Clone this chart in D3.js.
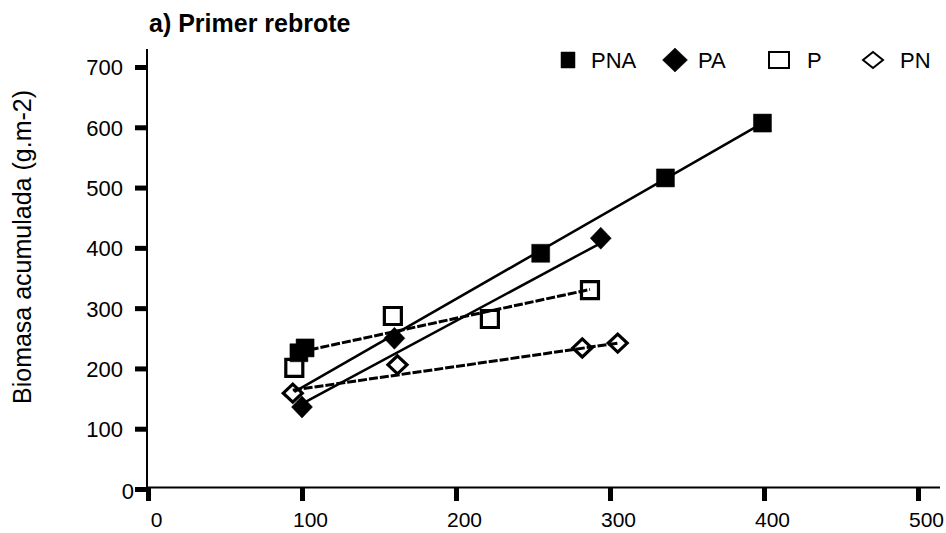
<!DOCTYPE html>
<html>
<head>
<meta charset="utf-8">
<script src="https://cdn.jsdelivr.net/npm/d3@7"></script>
<style>
  html, body { margin: 0; padding: 0; background: #fff; }
  svg { display: block; }
  text { font-family: "Liberation Sans", Arial, Helvetica, sans-serif; fill: #000; }
</style>
</head>
<body>
<svg id="chart" width="946" height="533"></svg>
<script>
// ---- data ----
const title = "a) Primer rebrote";
const yTitle = "Biomasa acumulada (g.m-2)";
const seriesNames = ["PNA", "PA", "P", "PN"];

const pnaX = [98, 102, 255, 336, 399];
const pnaY = [226, 234, 391, 516, 607];
const paX = [100, 160, 294];
const paY = [136, 250, 416];
const pX = [95, 159, 222, 287];
const pY = [201, 287, 282, 330];
const pnX = [94, 162, 282, 305];
const pnY = [159, 206, 234, 242];

// fitted lines (start / end)
const pnaFitX = [95, 399], pnaFitY = [161, 607];
const paFitX = [102, 294], paFitY = [144, 408];
const pFitX = [98, 287], pFitY = [227, 331];
const pnFitX = [94, 305], pnFitY = [164, 242];

const xTicks = [0, 100, 200, 300, 400, 500];
const yTicks = [0, 100, 200, 300, 400, 500, 600, 700];

// ---- drawing ----
const svg = d3.select("#chart");
const x = d3.scaleLinear().domain([0, 500]).range([148, 918]);
const y = d3.scaleLinear().domain([0, 700]).range([489, 67]);

const series = [
  { name: seriesNames[0], xs: pnaX, ys: pnaY, fx: pnaFitX, fy: pnaFitY, shape: "square", filled: true, dashed: false },
  { name: seriesNames[1], xs: paX, ys: paY, fx: paFitX, fy: paFitY, shape: "diamond", filled: true, dashed: false },
  { name: seriesNames[2], xs: pX, ys: pY, fx: pFitX, fy: pFitY, shape: "square", filled: false, dashed: true },
  { name: seriesNames[3], xs: pnX, ys: pnY, fx: pnFitX, fy: pnFitY, shape: "diamond", filled: false, dashed: true }
];

function markerPath(shape, filled) {
  if (shape === "square") {
    const h = filled ? 9 : 8.5;
    return `M${-h},${-h}H${h}V${h}H${-h}Z`;
  }
  const w = filled ? 10.5 : 9.5, hh = filled ? 11 : 9;
  return `M0,${-hh}L${w},0L0,${hh}L${-w},0Z`;
}

// Axes
const yAxis = d3.axisLeft(y).tickValues(yTicks).tickSize(0).tickPadding(24).tickFormat(d3.format("d"));
const gy = svg.append("g").attr("transform", "translate(147,0)").call(yAxis);
gy.select(".domain").remove();
gy.selectAll(".tick text").style("font-size", "22px").attr("dy", "0.36em");
gy.selectAll(".tick").filter(d => d === 0).select("text").attr("x", -13).attr("dy", "0.45em");
gy.selectAll(".tick").append("rect").attr("x", -12).attr("y", -2.5).attr("width", 12).attr("height", 5).attr("fill", "#000");

const xAxis = d3.axisBottom(x).tickValues(xTicks).tickSize(0).tickPadding(23).tickFormat(d3.format("d"));
const gx = svg.append("g").attr("transform", `translate(0,${y(0)})`).call(xAxis);
gx.select(".domain").remove();
gx.selectAll(".tick text").style("font-size", "21px").attr("dx", 8);
gx.selectAll(".tick").append("rect").attr("x", -2.5).attr("y", -2).attr("width", 5).attr("height", 14).attr("fill", "#000");

// axis lines
svg.append("line").attr("x1", 147).attr("x2", 147).attr("y1", 49).attr("y2", y(0) + 1).attr("stroke", "#000").attr("stroke-width", 2);
svg.append("line").attr("x1", 146).attr("x2", 940).attr("y1", y(0) - 1.5).attr("y2", y(0) - 1.5).attr("stroke", "#000").attr("stroke-width", 2);

// fit lines
series.forEach(s => {
  svg.append("line")
    .attr("x1", x(s.fx[0])).attr("y1", y(s.fy[0]))
    .attr("x2", x(s.fx[1])).attr("y2", y(s.fy[1]))
    .attr("stroke", "#000")
    .attr("stroke-width", s.dashed ? 3 : 2.5)
    .attr("stroke-dasharray", s.dashed ? "9,2" : null);
});

// markers
series.forEach(s => {
  svg.append("g").selectAll("path").data(s.xs.map((v, i) => [v, s.ys[i]])).join("path")
    .attr("transform", d => `translate(${x(d[0])},${y(d[1])})`)
    .attr("d", markerPath(s.shape, s.filled))
    .attr("fill", s.filled ? "#000" : "none")
    .attr("stroke", "#000")
    .attr("stroke-width", s.filled ? 0.5 : 3.2);
});

// legend
const legendX = [568, 675, 779, 873];
const legendTextX = [591, 698, 807, 900];
series.forEach((s, i) => {
  let d;
  if (s.shape === "square") d = s.filled ? "M-7,-8H7V8H-7Z" : "M-10,-8H10V8H-10Z";
  else d = s.filled ? "M0,-12L12.5,0L0,12L-12.5,0Z" : "M0,-8L10,0L0,8L-10,0Z";
  svg.append("path").attr("transform", `translate(${legendX[i]},60)`).attr("d", d)
    .attr("fill", s.filled ? "#000" : "none").attr("stroke", "#000").attr("stroke-width", s.filled ? 0.5 : 2);
  svg.append("text").attr("x", legendTextX[i]).attr("y", 68).style("font-size", "22px").text(s.name);
});

// titles
svg.append("text").attr("x", 149).attr("y", 32).style("font-size", "25px").style("font-weight", "bold").text(title);
svg.append("text").attr("transform", "translate(31,247) rotate(-90)").attr("text-anchor", "middle")
  .style("font-size", "25px").text(yTitle);
</script>
</body>
</html>
